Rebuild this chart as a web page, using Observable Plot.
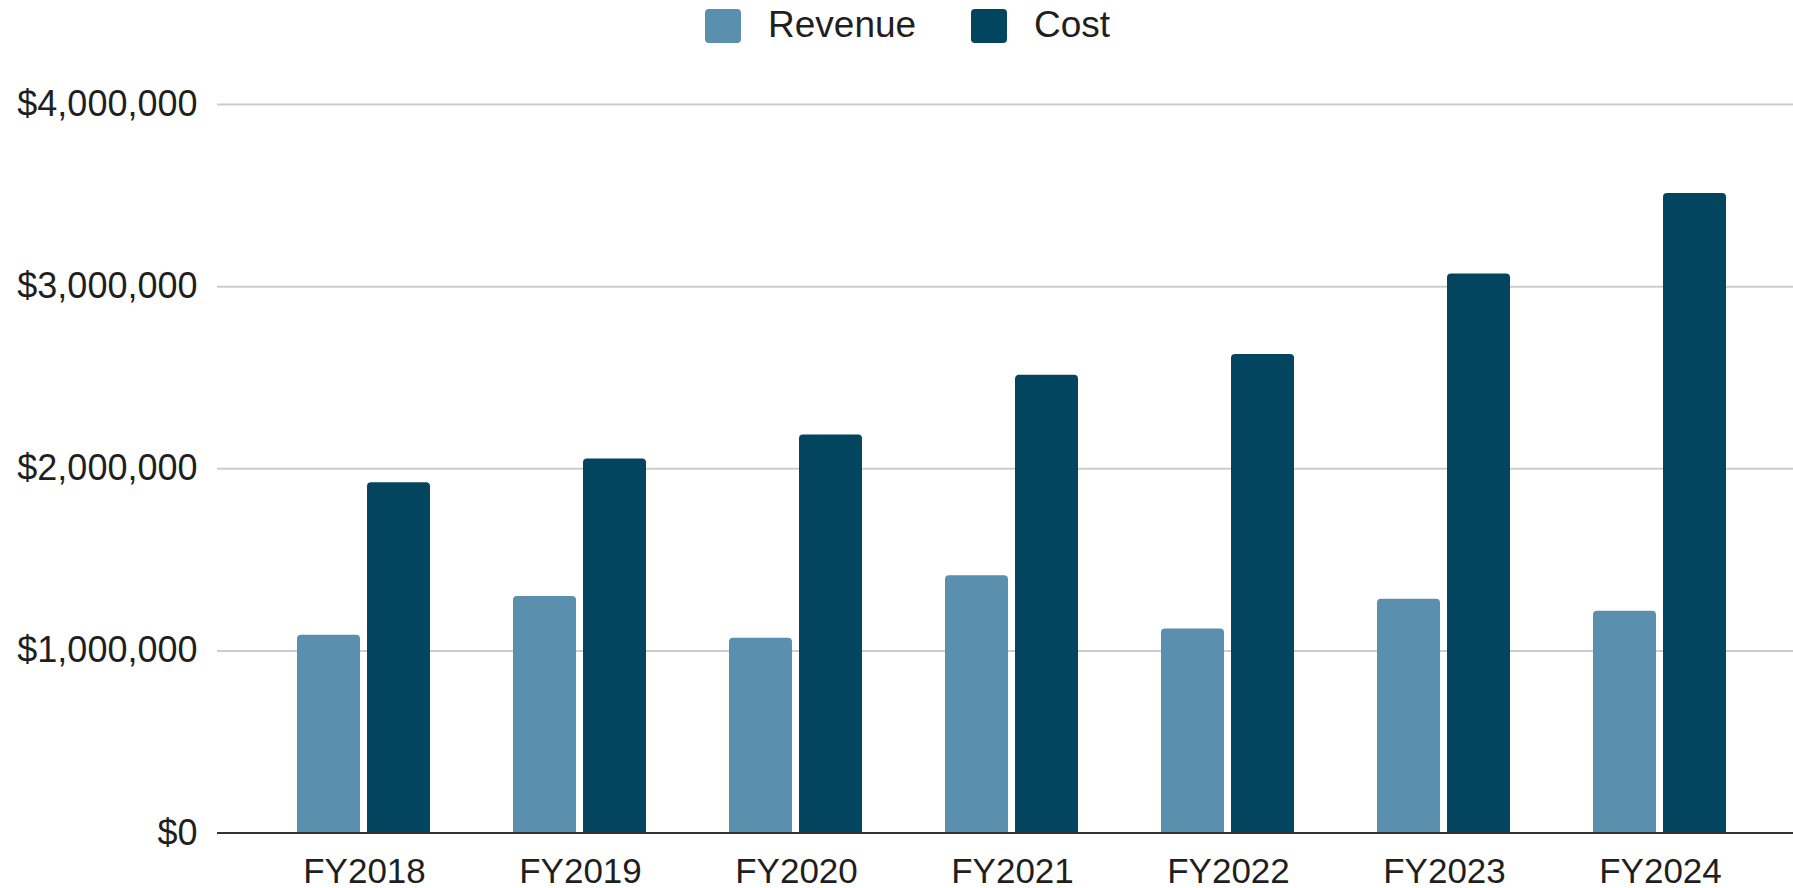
<!DOCTYPE html>
<html>
<head>
<meta charset="utf-8">
<script src="https://cdn.jsdelivr.net/npm/d3@7"></script>
<script src="https://cdn.jsdelivr.net/npm/@observablehq/plot@0.6"></script>
<style>
  html, body { margin: 0; padding: 0; background: #ffffff; overflow: hidden; }
  body { width: 1793px; height: 888px; font-family: "Liberation Sans", Arial, sans-serif; }
  #legend { position: relative; height: 50px; }
  .item { position: absolute; top: 0; height: 50px; display: flex; align-items: center; }
  .sw { width: 36px; height: 34px; border-radius: 4px; margin-right: 27px; margin-top: 2px; }
  .lab { font-size: 37px; color: #1f1f1f; margin-top: 0px; }
</style>
</head>
<body>
<div id="legend"></div>
<div id="chart"></div>
<script>
const years = ["FY2018", "FY2019", "FY2020", "FY2021", "FY2022", "FY2023", "FY2024"];
const revenue = [1086000, 1299000, 1070000, 1412000, 1120000, 1283000, 1218000];
const cost = [1923000, 2053000, 2185000, 2513000, 2627000, 3070000, 3511000];
const seriesNames = ["Revenue", "Cost"];
const seriesColors = ["#5A90AE", "#03455F"];
const yTicks = [0, 1000000, 2000000, 3000000, 4000000];

const revRows = years.map((year, i) => ({year, series: "Revenue", value: revenue[i]}));
const costRows = years.map((year, i) => ({year, series: "Cost", value: cost[i]}));

// legend
const legend = document.getElementById("legend");
const legendLeft = [705, 971];
seriesNames.forEach((name, i) => {
  const it = document.createElement("div");
  it.className = "item";
  it.style.left = legendLeft[i] + "px";
  const sw = document.createElement("div");
  sw.className = "sw";
  sw.style.background = seriesColors[i];
  const lab = document.createElement("span");
  lab.className = "lab";
  lab.textContent = name;
  it.appendChild(sw);
  it.appendChild(lab);
  legend.appendChild(it);
});

const chart = Plot.plot({
  width: 1793,
  height: 838,
  marginLeft: 217,
  marginRight: 0,
  marginTop: 54,
  marginBottom: 55.5,
  style: {
    fontFamily: "'Liberation Sans', Arial, sans-serif",
    fontSize: "36px",
    color: "#1f1f1f",
    background: "#ffffff",
    overflow: "visible"
  },
  x: {type: "band", domain: years, padding: 0, insetLeft: 38, insetRight: 24, label: null},
  y: {domain: [0, 4000000], label: null},
  marks: [
    Plot.ruleY(yTicks.filter(d => d > 0), {stroke: "#cccccc", strokeWidth: 2}),
    Plot.barY(revRows, {x: "year", y: "value", fill: seriesColors[0], insetLeft: 41, insetRight: 112, rx: 4, insetBottom: -8, clip: true}),
    Plot.barY(costRows, {x: "year", y: "value", fill: seriesColors[1], insetLeft: 111, insetRight: 42, rx: 4, insetBottom: -8, clip: true}),
    Plot.ruleY([0], {stroke: "#333333", strokeWidth: 2}),
    Plot.axisY({ticks: yTicks, tickSize: 0, tickPadding: 20, tickFormat: d3.format("$,"), label: null, fill: "#1f1f1f"}),
    Plot.axisX({tickSize: 0, tickPadding: 25, label: null, fill: "#1f1f1f", fontSize: 35})
  ]
});
document.getElementById("chart").appendChild(chart);
</script>
</body>
</html>
